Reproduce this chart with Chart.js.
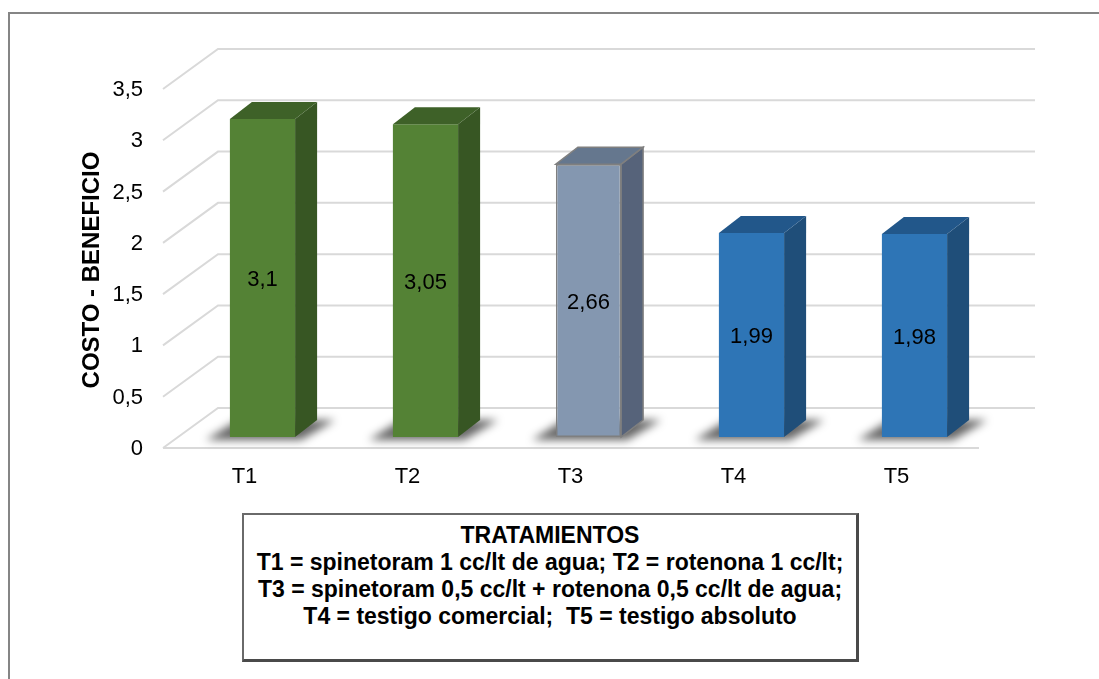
<!DOCTYPE html>
<html>
<head>
<meta charset="utf-8">
<script src="https://cdn.jsdelivr.net/npm/chart.js@4.4.1/dist/chart.umd.min.js"></script>
<style>
  body { margin: 0; background: #fff; overflow: hidden; }
  #wrap { position: relative; width: 1099px; height: 679px; }
  #marco { position: absolute; left: 8px; top: 12px; width: 1200px; height: 800px; border: 2px solid #858585; }
  #grafico { position: absolute; left: 0; top: 0; }
  #leyenda {
    position: absolute; left: 242px; top: 513px; width: 612px; height: 137px;
    border: 2px solid #6a6a6a; border-bottom: 3px solid #4a4a4a; border-right: 3px solid #4a4a4a;
    background: #fff; text-align: center;
    font: bold 23px "Liberation Sans", Arial, sans-serif; line-height: 27px; color: #000;
    padding-top: 7px; box-sizing: content-box;
  }
</style>
</head>
<body>
<div id="wrap">
  <div id="marco"></div>
  <canvas id="grafico" width="1099" height="679"></canvas>
  <div id="leyenda">TRATAMIENTOS<br>T1 = spinetoram 1 cc/lt de agua; T2 = rotenona 1 cc/lt;<br>T3 = spinetoram 0,5 cc/lt + rotenona 0,5 cc/lt de agua;<br>T4 = testigo comercial;&nbsp; T5 = testigo absoluto</div>
</div>
<script>
// datos del gráfico
const tratamientos = ['T1', 'T2', 'T3', 'T4', 'T5'];
const costoBeneficio = [3.1, 3.05, 2.66, 1.99, 1.98];
const tituloEjeY = 'COSTO - BENEFICIO';

// colores de cada barra: frente, lado, tapa
const colorFrente = ['#548235', '#548235', '#8497b0', '#2e75b6', '#2e75b6'];
const colorLado = ['#375623', '#375623', '#56637a', '#1f4e79', '#1f4e79'];
const colorTapa = ['#3e6128', '#3e6128', '#65778e', '#22578a', '#22578a'];
const colorBorde = [null, null, '#7f7f7f', null, null];

const FUENTE = '"Liberation Sans", Arial, sans-serif';
const coma = v => String(v).replace('.', ',');

// profundidad de las barras y del "piso"
const PROF_X = 22, PROF_Y = -17;

const barras3d = {
  id: 'barras3d',
  beforeDatasetsDraw(chart) {
    const ctx = chart.ctx;
    const area = chart.chartArea;
    const y = chart.scales.y;
    const xFrente = area.left - 18, xFondo = area.left + 37;
    const finFondo = area.right + 39, finPiso = area.right - 17;

    ctx.save();
    ctx.strokeStyle = '#d9d9d9';
    ctx.lineWidth = 2;
    y.ticks.forEach(t => {
      const py = y.getPixelForValue(t.value);
      ctx.beginPath();
      ctx.moveTo(xFrente, py + 11);
      ctx.lineTo(xFondo, py - 29);
      ctx.lineTo(finFondo, py - 29);
      ctx.stroke();
    });
    // borde delantero del piso
    const p0 = y.getPixelForValue(0);
    ctx.beginPath();
    ctx.moveTo(xFrente, p0 + 11);
    ctx.lineTo(finPiso, p0 + 11);
    ctx.stroke();

    // sombras sobre el piso
    ctx.filter = 'blur(4px)';
    ctx.fillStyle = 'rgba(0,0,0,0.6)';
    chart.getDatasetMeta(0).data.forEach(b => {
      const l = b.x - b.width / 2, r = b.x + b.width / 2, base = b.base;
      ctx.beginPath();
      ctx.moveTo(l - 24, base + 3);
      ctx.lineTo(r + 6, base + 3);
      ctx.lineTo(r + 40, base - 17);
      ctx.lineTo(l + 8, base - 17);
      ctx.closePath();
      ctx.fill();
    });
    ctx.restore();
  },
  afterDatasetsDraw(chart) {
    const ctx = chart.ctx;
    ctx.save();
    chart.getDatasetMeta(0).data.forEach((b, i) => {
      const l = b.x - b.width / 2, r = b.x + b.width / 2, top = b.y, base = b.base;
      // lado
      ctx.beginPath();
      ctx.moveTo(r, top);
      ctx.lineTo(r + PROF_X, top + PROF_Y);
      ctx.lineTo(r + PROF_X, base + PROF_Y);
      ctx.lineTo(r, base);
      ctx.closePath();
      ctx.fillStyle = colorLado[i];
      ctx.fill();
      if (colorBorde[i]) { ctx.strokeStyle = colorBorde[i]; ctx.lineWidth = 1.5; ctx.stroke(); }
      // tapa
      ctx.beginPath();
      ctx.moveTo(l, top);
      ctx.lineTo(l + PROF_X, top + PROF_Y);
      ctx.lineTo(r + PROF_X, top + PROF_Y);
      ctx.lineTo(r, top);
      ctx.closePath();
      ctx.fillStyle = colorTapa[i];
      ctx.fill();
      if (colorBorde[i]) { ctx.stroke(); }

      // etiqueta del valor
      ctx.fillStyle = '#000';
      ctx.font = '22px ' + FUENTE;
      ctx.textAlign = 'center';
      ctx.textBaseline = 'middle';
      ctx.fillText(coma(costoBeneficio[i]), b.x, (top + base) / 2 + 2);
    });
    ctx.restore();
  },
  afterDraw(chart) {
    const ctx = chart.ctx;
    ctx.save();
    ctx.translate(92, 270);
    ctx.rotate(-Math.PI / 2);
    ctx.font = 'bold 24px ' + FUENTE;
    ctx.fillStyle = '#000';
    ctx.textAlign = 'center';
    ctx.textBaseline = 'middle';
    ctx.fillText(tituloEjeY, 0, 0);
    ctx.restore();
  }
};

new Chart(document.getElementById('grafico'), {
  type: 'bar',
  data: {
    labels: tratamientos,
    datasets: [{
      data: costoBeneficio,
      backgroundColor: colorFrente,
      borderColor: colorBorde.map(c => c || 'rgba(0,0,0,0)'),
      borderWidth: colorBorde.map(c => c ? 1.5 : 0),
      borderSkipped: false,
      barPercentage: 0.4,
      categoryPercentage: 1.0
    }]
  },
  options: {
    responsive: false,
    animation: false,
    layout: { padding: { left: 60, top: 78, right: 103, bottom: 0 } },
    plugins: { legend: { display: false }, tooltip: { enabled: false } },
    scales: {
      x: {
        grid: { display: false, drawTicks: false },
        border: { display: false },
        ticks: { color: '#000', font: { size: 22, family: FUENTE }, padding: 27, labelOffset: -18 },
        afterFit: s => { s.height = 242; }
      },
      y: {
        min: 0, max: 3.5,
        grid: { display: false, drawTicks: false },
        border: { display: false },
        ticks: {
          stepSize: 0.5, color: '#000', font: { size: 22, family: FUENTE },
          padding: 38, labelOffset: 12,
          callback: v => coma(v)
        },
        afterFit: s => { s.width = 121; }
      }
    }
  },
  plugins: [barras3d]
});
</script>
</body>
</html>
